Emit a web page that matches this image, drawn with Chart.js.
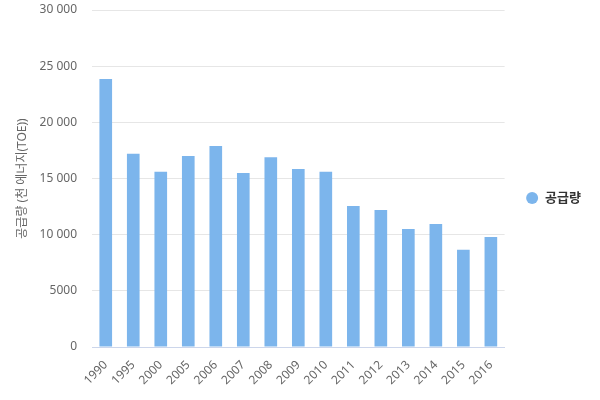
<!DOCTYPE html>
<html>
<head>
<meta charset="utf-8">
<script src="https://cdn.jsdelivr.net/npm/chart.js@4/dist/chart.umd.min.js"></script>
<style>
  html, body { margin: 0; padding: 0; background: #fff; }
  #wrap { width: 600px; height: 400px; }
</style>
</head>
<body>
<div id="wrap"><canvas id="bar"></canvas></div>
<script>
const years = ['1990', '1995', '2000', '2005', '2006', '2007', '2008', '2009', '2010', '2011', '2012', '2013', '2014', '2015', '2016'];
const supply = [23850, 17200, 15600, 17000, 17900, 15500, 16900, 15850, 15600, 12550, 12200, 10500, 10950, 8650, 9800];
const seriesName = '공급량';
const axisTitle = '공급량 (천 에너지(TOE))';

const FONT = "'Noto Sans', 'Noto Sans CJK KR', sans-serif";

function fmt(v) {
    if (Math.abs(v) < 10000) return String(v);
    return String(v).replace(/\B(?=(\d{3})+(?!\d))/g, ' ');
}

const ctx = document.getElementById('bar').getContext('2d');
const myBar = new Chart(ctx, {
    type: 'bar',
    data: {
        labels: years,
        datasets: [{
            label: seriesName,
            data: supply,
            backgroundColor: '#7cb5ec',
            borderWidth: 0,
            categoryPercentage: 0.92,
            barPercentage: 0.5
        }]
    },
    options: {
        responsive: true,
        maintainAspectRatio: false,
        animation: false,
        layout: {
            padding: { top: 10, right: 9, left: 0, bottom: 14 }
        },
        scales: {
            x: {
                grid: { display: false, drawTicks: false },
                border: { color: '#ccd6eb' },
                ticks: {
                    color: '#666666',
                    font: { family: FONT, size: 12 },
                    maxRotation: 45,
                    minRotation: 45,
                    padding: 11
                },
                // labels may spill into the bottom padding
                afterFit: (s) => { s.paddingLeft = 0; s.paddingRight = 0; s.height = 39; }
            },
            y: {
                min: 0,
                max: 30000,
                grid: { color: '#e6e6e6', drawTicks: false },
                border: { display: false },
                ticks: {
                    stepSize: 5000,
                    color: '#666666',
                    font: { family: FONT, size: 12 },
                    padding: 15,
                    callback: (v) => fmt(v)
                },
                title: {
                    display: true,
                    text: axisTitle,
                    color: '#666666',
                    font: { family: FONT, size: 12 },
                    padding: { top: 15, bottom: 10 }
                },
                afterFit: (s) => { s.paddingTop = 0; s.paddingBottom = 0; s.width = 92; }
            }
        },
        plugins: {
            legend: {
                position: 'right',
                labels: {
                    usePointStyle: true,
                    pointStyle: 'circle',
                    boxWidth: 16,
                    boxHeight: 8.5,
                    color: '#333333',
                    padding: 21,
                    font: { family: FONT, size: 13, weight: 'bold' }
                }
            },
            tooltip: { enabled: false }
        }
    }
});
</script>
</body>
</html>
